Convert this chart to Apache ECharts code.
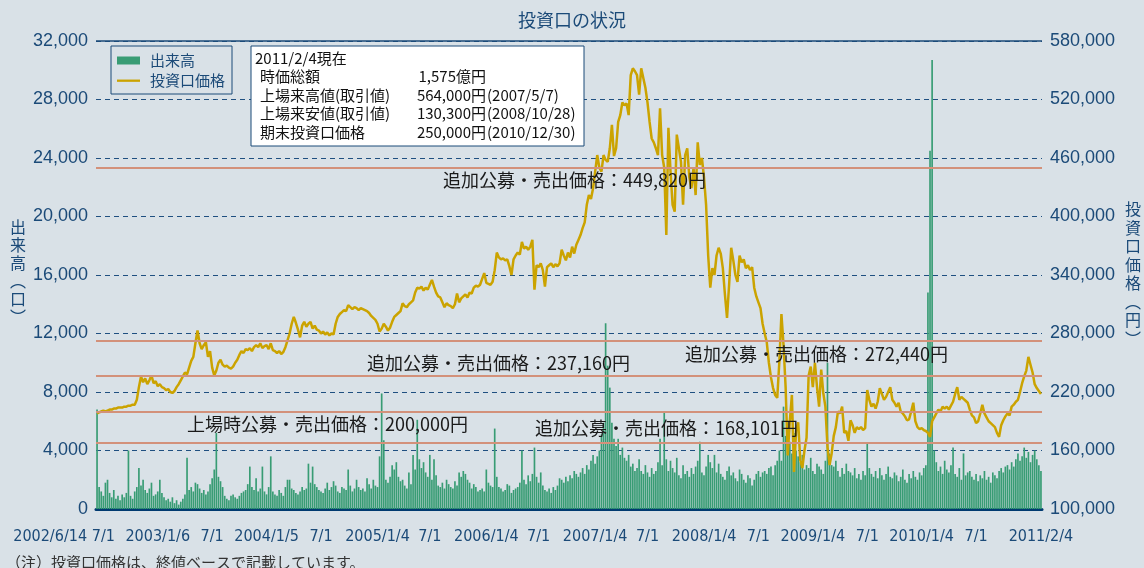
<!DOCTYPE html>
<html><head><meta charset="utf-8">
<script src="https://cdn.jsdelivr.net/npm/echarts@6/dist/echarts.min.js"></script>
<style>html,body{margin:0;padding:0;background:#d9e1e7}#c{width:1144px;height:568px}</style>
</head><body><div id="c"></div>
<script>
// ---- data (weekly samples) ----
const chartTitle = '投資口の状況';
const startDate = [2002, 6, 14];
const volume = [
6800,1500,1200,900,1800,2000,1100,800,1300,700,
900,600,1000,800,1100,4000,900,700,1200,1500,
2800,1600,2000,1300,1100,1400,1800,900,1000,1200,
2000,1100,800,600,700,500,800,400,600,300,
500,700,1000,3500,1300,1500,1200,1800,1700,1400,
1100,1300,1000,1200,1700,2100,2700,5200,2200,1900,
1500,900,700,600,900,1000,800,700,900,1100,
1200,1300,1700,2900,1500,1300,2100,1200,1400,2900,
1200,1000,1500,3600,1200,1000,900,1300,1100,900,
1500,2000,2000,1400,1300,1100,1000,1200,1500,1300,
1400,3100,1800,2900,1700,1500,1300,1200,1100,1400,
1800,1300,1500,1900,1600,1200,1100,1500,1400,1300,
2700,1600,1200,1400,2000,1500,1300,1400,1200,2100,
1700,1400,2000,1600,1500,3600,7900,4700,2000,1800,
2200,3000,2700,3200,2200,1900,2000,1600,1400,2500,
1700,3700,2700,6100,3400,2800,3200,2500,2200,3700,
2000,3400,2300,1600,1500,1800,1400,2000,1700,1500,
1400,1900,1600,2500,2200,2600,2400,2000,1800,1400,
1700,1500,1200,1300,1400,1200,2700,1800,1600,1500,
5500,2200,1500,1400,1200,1300,1700,1600,1100,1300,
1400,1500,1800,4000,2000,1700,2300,1900,2400,4200,
2200,1800,2500,1600,1300,1200,1400,1100,1500,1300,
1600,2100,2000,1800,2200,1900,2300,2100,2600,2400,
2200,2500,2800,2400,3000,2700,3300,3700,3100,3600,
4000,5100,5900,12700,9800,8300,5900,4800,4300,4800,
3700,4200,3500,3300,3700,2900,3100,2600,2800,3400,
2600,2400,3000,2500,2200,2800,2400,2600,3200,4800,
3000,6600,3400,2600,3300,2800,2500,3500,2300,2100,
3000,2400,2600,2200,2800,2400,2900,3300,4600,2500,
2300,2900,3700,3200,2800,3700,2500,3100,2400,2200,
2000,2600,2900,2300,2500,2100,1900,2700,2400,2000,
1800,2300,2100,1600,2000,2400,2600,2200,2500,2600,
2400,2800,2900,2300,3000,3300,4000,3300,7000,5000,
3800,4600,3800,5200,4000,3600,3200,3700,2700,3000,
2800,3500,2600,2400,3100,2900,2700,2400,3300,10000,
3800,3000,2900,3300,2600,2200,2800,2400,3100,2600,
2500,2300,2800,2100,2400,2000,2600,2300,4500,2800,
2400,2200,2600,2100,2800,2300,2000,2400,2900,2200,
2100,2500,2300,1900,2200,2700,2000,1800,2400,2100,
2600,2200,2000,2500,2300,2800,3000,14800,24500,30700,
4000,3200,2600,2900,2400,3300,2700,2500,3000,4200,
2400,2200,2800,2000,3800,2300,2500,2600,2200,2000,
2400,1900,2300,2100,2600,2000,2200,1800,2500,2300,
2100,2600,2800,2500,2900,3000,2700,3200,2900,3400,
3800,3300,3600,4200,3500,3900,3200,3700,4000,3400,
3000,2600
];
// closing price, thousand yen
const priceK = [
198,199,200,201,200,201,202,202,203,203,
204,204,204,205,205,206,206,207,207,
212,225,236,
230,234,228,232,237,229,231,226,228,
225,224,222,223,220,219,221,
225,228,232,236,240,238,
245,252,256,270,283,
270,264,268,271,256,262,245,237,
242,250,253,248,246,247,245,244,246,
250,253,258,262,260,264,263,265,262,266,268,
266,270,265,267,268,264,270,263,262,260,262,259,261,
266,273,280,290,297,291,284,276,288,
292,287,290,292,285,288,284,283,
280,282,279,281,278,280,279,290,297,300,
302,304,303,309,307,305,307,306,304,306,305,304,303,301,
298,296,294,290,282,285,290,287,283,286,292,297,299,301,303,
311,308,307,310,312,314,322,327,326,328,324,327,325,330,335,
328,322,318,317,312,307,311,309,308,306,310,321,312,
316,318,320,317,322,321,327,329,328,330,336,342,332,331,330,333,345,363,
358,356,357,355,356,349,340,356,360,363,361,374,367,369,366,369,
376,325,350,348,352,345,328,348,350,352,348,351,349,352,366,360,355,363,358,369,
362,371,376,381,388,394,412,422,418,429,446,463,450,446,463,458,456,470,494,
462,470,497,504,517,514,516,504,545,552,549,545,525,552,542,532,517,497,480,476,470,463,
511,463,450,381,491,446,412,405,484,470,456,412,463,470,440,429,450,422,476,453,460,440,412,360,
327,347,340,360,368,362,347,320,296,330,368,355,340,333,360,353,356,347,350,345,348,327,318,312,
306,290,280,271,250,235,224,217,214,251,300,268,225,155,190,217,138,180,189,150,142,160,173,237,
246,225,250,225,205,243,219,205,164,145,157,175,184,200,198,205,178,180,170,
191,186,178,184,182,184,181,183,222,212,205,208,203,210,224,218,212,215,220,225,212,209,205,209,
200,198,195,191,192,200,209,190,184,182,183,181,180,178,174,190,194,198,202,200,205,203,205,202,
206,210,218,225,212,215,213,211,209,202,196,194,188,190,198,207,198,194,190,188,186,184,178,174,
186,191,195,198,196,205,207,210,212,220,229,236,242,256,248,240,228,224,221,218
];
const xTickIndex = [0,3,29,55,81,107,134,159,186,211,238,263,290,316,342,368,394,420,451];
const xTickLabels = ['2002/6/14','7/1','2003/1/6','7/1','2004/1/5','7/1','2005/1/4','7/1','2006/1/4','7/1','2007/1/4','7/1','2008/1/4','7/1','2009/1/4','7/1','2010/1/4','7/1','2011/2/4'];
const refPrices = [449820, 272440, 237160, 200000, 168101];
const refLabels = ['追加公募・売出価格：449,820円','追加公募・売出価格：272,440円','追加公募・売出価格：237,160円','上場時公募・売出価格：200,000円','追加公募・売出価格：168,101円'];
const infoHeader = '2011/2/4現在';
const infoLabels = ['時価総額','上場来高値(取引値)','上場来安値(取引値)','期末投資口価格'];
const infoValues = ['1,575億円','564,000円','130,300円','250,000円'];
const infoDates = ['','(2007/5/7)','(2008/10/28)','(2010/12/30)'];
const leftAxisName = ['出','来','高','︵','口','︶'];
const rightAxisName = ['投','資','口','価','格','︵','円','︶'];
const noteText = '（注）投資口価格は、終値ベースで記載しています。';

// ---- layout / style ----
const NAVY = '#1b4a78';
const GOLD = '#cba300';
const GREEN = '#389c74';
const SALMON = '#d3917a';
const BG = '#d9e1e7';
const CJK = '"Noto Sans CJK JP", sans-serif';
const LAT = '"Liberation Sans", Arial, sans-serif';
const NARROW = '"Liberation Sans Narrow", "DejaVu Sans Condensed", sans-serif';
const refLabelLayout = [[347, 3, 'insideStartBottom'], [589, 4, 'insideStartBottom'], [271, 3, 'insideStartTop'], [91, 4, 'insideStartBottom'], [439, 5, 'insideStartTop']];

const categories = [];
const d0 = Date.UTC(startDate[0], startDate[1]-1, startDate[2]);
for (let i = 0; i < volume.length; i++) {
  const d = new Date(d0 + i*7*86400000);
  categories.push(d.getUTCFullYear() + '/' + (d.getUTCMonth()+1) + '/' + d.getUTCDate());
}
const labelByCat = {};
xTickIndex.forEach((ix, k) => { labelByCat[categories[ix]] = k; });

const chart = echarts.init(document.getElementById('c'), null, {renderer: 'canvas'});

const graphics = [];
graphics.push({type:'rect', z: 10, shape:{x:251, y:46, width:333, height:100}, style:{fill:'#ffffff', stroke:NAVY, lineWidth:1}});
graphics.push({type:'text', z: 11, x:255, y:58.5, style:{text:infoHeader, fill:'#111', fontSize:15, fontFamily:CJK, verticalAlign:'middle'}});
infoLabels.forEach((t, k) => {
  const y = 76 + k*18.8;
  graphics.push({type:'text', z: 11, x:260, y:y, style:{text:t, fill:'#111', fontSize:15, fontFamily:CJK, verticalAlign:'middle'}});
  graphics.push({type:'text', z: 11, x:486, y:y, style:{text:infoValues[k], fill:'#111', fontSize:15, fontFamily:CJK, verticalAlign:'middle', align:'right'}});
  if (infoDates[k]) graphics.push({type:'text', z: 11, x:487, y:y, style:{text:infoDates[k], fill:'#111', fontSize:15, fontFamily:CJK, verticalAlign:'middle'}});
});
graphics.push({type:'text', x:18, y:218, style:{text:leftAxisName.join('\n'), fill:NAVY, fontSize:16, lineHeight:18, fontFamily:CJK, align:'center'}});
graphics.push({type:'text', x:1133, y:200, style:{text:rightAxisName.join('\n'), fill:NAVY, fontSize:16, lineHeight:18.5, fontFamily:CJK, align:'center'}});
graphics.push({type:'text', x:6, y:555, style:{text:noteText, fill:'#333', fontSize:15, fontFamily:CJK}});

const firstLabelIdx = xTickIndex[0];
const option = {
  backgroundColor: BG,
  animation: false,
  title: {text: chartTitle, left: 'center', top: 6, textStyle: {color: NAVY, fontSize: 18, fontWeight: 'normal', fontFamily: CJK}},
  legend: {
    left: 111, top: 46, orient: 'vertical', backgroundColor: BG, borderColor: NAVY, borderWidth: 1,
    padding: [7, 7, 6, 6], itemWidth: 23, itemHeight: 8, itemGap: 5, selectedMode: false,
    textStyle: {color: NAVY, fontSize: 15, fontFamily: CJK, padding: [0, 0, 0, 5]},
    data: [
      {name: '出来高', icon: 'rect', itemStyle: {color: GREEN}},
      {name: '投資口価格', icon: 'path://M0,0M0,3H24V5.4H0ZM24,8', itemStyle: {color: GOLD}}
    ]
  },
  grid: {left: 96, right: 102, top: 41, bottom: 59},
  xAxis: [{
    type: 'category', data: categories, boundaryGap: true,
    axisLine: {lineStyle: {color: '#003a70', width: 3}},
    axisTick: {show: false},
    axisLabel: {
      interval: (idx, val) => idx !== firstLabelIdx && labelByCat[val] !== undefined,
      showMinLabel: true, showMaxLabel: true, hideOverlap: false,
      formatter: (val) => { const k = labelByCat[val]; return (k === undefined || k === 0) ? '' : xTickLabels[k]; },
      color: NAVY, fontSize: 16, fontFamily: NARROW, margin: 20
    },
    splitLine: {show: false}
  }, {
    type: 'category', data: categories, boundaryGap: true, position: 'bottom', offset: 0,
    axisLine: {show: false}, axisTick: {show: false}, splitLine: {show: false},
    axisLabel: {
      interval: (idx) => idx === firstLabelIdx, showMinLabel: true, showMaxLabel: false,
      formatter: (val) => labelByCat[val] === 0 ? xTickLabels[0] : '',
      align: 'right', padding: [0, 10, 0, 0],
      color: NAVY, fontSize: 16, fontFamily: NARROW, margin: 20
    }
  }],
  yAxis: [
    {type: 'value', min: 0, max: 32000, interval: 4000, position: 'left',
     axisLine: {show: false}, axisTick: {show: false},
     axisLabel: {color: NAVY, fontSize: 18, fontFamily: LAT, margin: 8, formatter: v => v.toLocaleString('en-US')},
     splitLine: {lineStyle: {color: '#1f4f80', type: [5, 4], width: 1}}},
    {type: 'value', min: 100000, max: 580000, interval: 60000, position: 'right',
     axisLine: {show: false}, axisTick: {show: false},
     axisLabel: {color: NAVY, fontSize: 18, fontFamily: LAT, margin: 8, formatter: v => v.toLocaleString('en-US')},
     splitLine: {show: false}}
  ],
  series: [
    {name: '出来高', type: 'bar', xAxisIndex: 0, yAxisIndex: 0, data: volume, barCategoryGap: '20%',
     itemStyle: {color: GREEN}, z: 2, silent: true,
     markLine: {silent: true, symbol: ['none', 'none'], label: {show: false},
       lineStyle: {color: NAVY, width: 1.5, type: 'solid'}, data: [{yAxis: 32000}]}},
    {name: '投資口価格', type: 'line', xAxisIndex: 0, yAxisIndex: 1, data: priceK.map(v => v * 1000),
     showSymbol: false, symbol: 'none', itemStyle: {color: GOLD},
     lineStyle: {color: GOLD, width: 2.5}, z: 3, silent: true,
     markLine: {silent: true, symbol: ['none', 'none'],
       lineStyle: {color: SALMON, width: 2, type: 'solid'},
       data: refPrices.map((p, k) => ({
         yAxis: p,
         label: {show: true, formatter: refLabels[k], position: refLabelLayout[k][2],
                 distance: [refLabelLayout[k][0], refLabelLayout[k][1]],
                 color: '#1a1a1a', fontSize: 18, fontFamily: CJK}
       }))}}
  ],
  graphic: graphics
};
chart.setOption(option);
</script></body></html>
